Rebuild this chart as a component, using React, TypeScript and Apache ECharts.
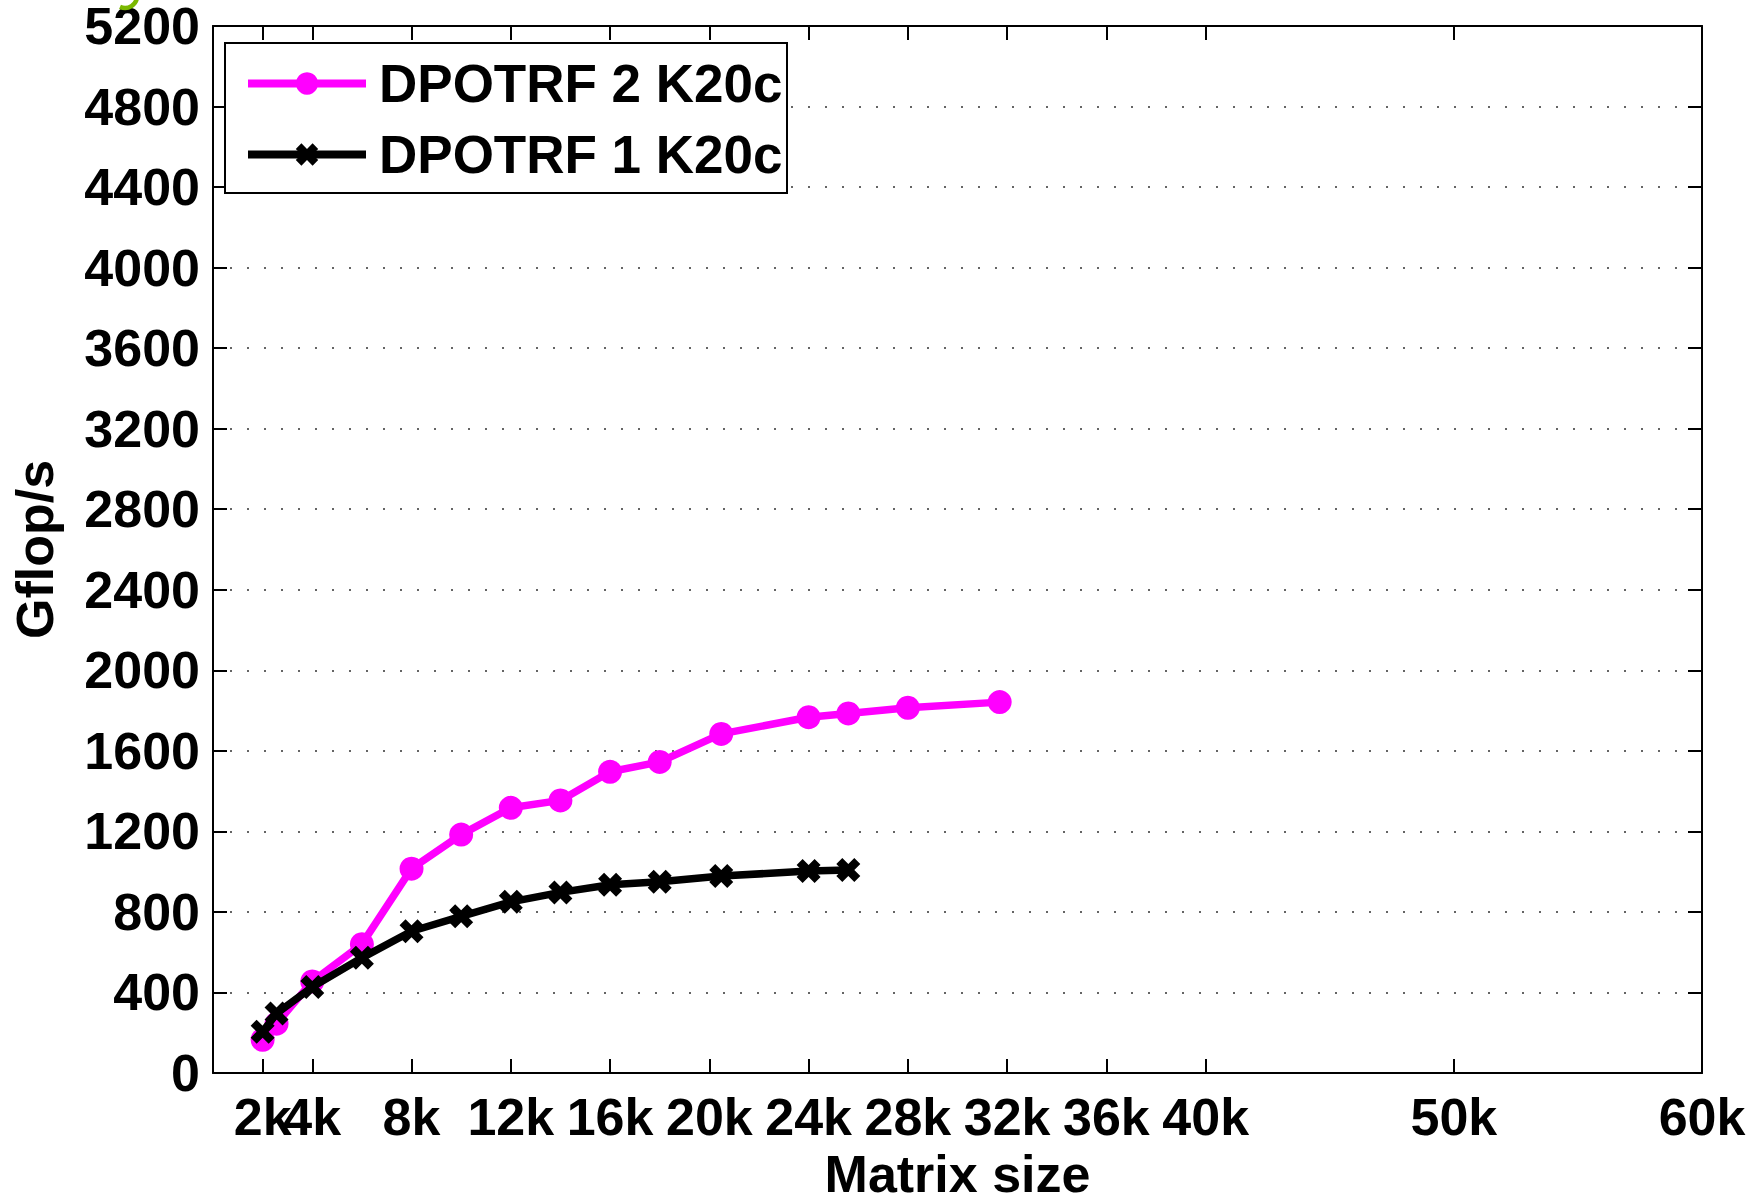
import React, { useEffect, useRef } from "react";
import * as echarts from "echarts";

const seriesNames = ["DPOTRF 2 K20c", "DPOTRF 1 K20c"];
const twoGpuSizes = [2000, 2560, 4000, 6000, 8000, 10000, 12000, 14000, 16000, 18000, 20480, 24000, 25600, 28000, 31700];
const twoGpuGflops = [165, 245, 455, 640, 1015, 1184, 1317, 1354, 1496, 1545, 1684, 1767, 1786, 1814, 1842];
const oneGpuSizes = [2000, 2560, 4000, 6000, 8000, 10000, 12000, 14000, 16000, 18000, 20480, 24000, 25600];
const oneGpuGflops = [205, 295, 427, 572, 704, 778, 850, 897, 935, 950, 978, 1003, 1008];
const xTickValues = [2000, 4000, 8000, 12000, 16000, 20000, 24000, 28000, 32000, 36000, 40000, 50000, 60000];
const xLabelValues = [4000, 8000, 12000, 16000, 20000, 24000, 28000, 32000, 36000, 40000, 50000, 60000];
const xLabelValuesOverlapping = [2000];
const xMin = 0;
const xMax = 60000;
const yMin = 0;
const yMax = 5200;
const yInterval = 400;

const FONT = "'Liberation Sans', Arial, Helvetica, sans-serif";
const X_SYMBOL = "path://M0,2.5L2.5,0L5,2.5L7.5,0L10,2.5L7.5,5L10,7.5L7.5,10L5,7.5L2.5,10L0,7.5L2.5,5Z";

export default function App() {
  const ref = useRef<HTMLDivElement>(null);
  useEffect(() => {
    document.body.style.margin = "0";
    if (!ref.current) return;
    const chart = echarts.init(ref.current, undefined, { renderer: "svg" });
    const axisLine = { show: true, onZero: false, lineStyle: { color: "#000", width: 2 } };
    const tick = { show: true, inside: true, length: 14, lineStyle: { color: "#000", width: 2 } };
    const labelStyle = { color: "#000", fontFamily: FONT, fontWeight: "bold" as const, fontSize: 52 };
    const fmtK = (v: number) => `${v / 1000}k`;
    chart.setOption({
      animation: false,
      backgroundColor: "#fff",
      grid: { left: 213, top: 26, width: 1489, height: 1047, containLabel: false, outerBoundsMode: "none" },
      legend: {
        orient: "vertical",
        left: 239,
        top: 52,
        z: 10,
        itemWidth: 118,
        itemHeight: 28,
        itemGap: 18,
        data: seriesNames,
        lineStyle: { width: 8 },
        textStyle: { ...labelStyle, fontSize: 53, lineHeight: 53, padding: [0, 0, 0, 8] },
      },
      graphic: [
        {
          type: "rect",
          z: 5,
          shape: { x: 225, y: 43, width: 562, height: 150 },
          style: { fill: "#fff", stroke: "#000", lineWidth: 2 },
        },
        {
          type: "arc",
          z: 5,
          shape: { cx: 125, cy: -4, r: 12, startAngle: 0, endAngle: 2.0, clockwise: true },
          style: { stroke: "#7ab800", lineWidth: 4.5, fill: "none" },
        },
      ],
      xAxis: [
        {
          type: "value",
          position: "bottom",
          min: xMin,
          max: xMax,
          name: "Matrix size",
          nameLocation: "middle",
          nameGap: 67,
          nameTextStyle: { ...labelStyle },
          axisLine,
          axisTick: { ...tick, customValues: xTickValues },
          axisLabel: { ...labelStyle, margin: 18, customValues: xLabelValues, formatter: fmtK },
          splitLine: { show: false },
        },
        {
          type: "value",
          position: "top",
          min: xMin,
          max: xMax,
          axisLine,
          axisTick: { ...tick, customValues: xTickValues },
          axisLabel: { show: false, customValues: xTickValues },
          splitLine: { show: false },
        },
        {
          type: "value",
          position: "bottom",
          min: xMin,
          max: xMax,
          axisLine: { show: false },
          axisTick: { show: false },
          axisLabel: { ...labelStyle, margin: 18, customValues: xLabelValuesOverlapping, formatter: fmtK },
          splitLine: { show: false },
        },
      ],
      yAxis: [
        {
          type: "value",
          position: "left",
          min: yMin,
          max: yMax,
          interval: yInterval,
          name: "Gflop/s",
          nameLocation: "middle",
          nameGap: 152,
          nameTextStyle: { ...labelStyle },
          axisLine,
          axisTick: tick,
          axisLabel: { ...labelStyle, margin: 13, formatter: (v: number) => String(v) },
          splitLine: { show: true, lineStyle: { color: "#333", width: 1.6, type: [2, 15] } },
        },
        {
          type: "value",
          position: "right",
          min: yMin,
          max: yMax,
          interval: yInterval,
          axisLine,
          axisTick: tick,
          axisLabel: { show: false },
          splitLine: { show: false },
        },
      ],
      series: [
        {
          name: seriesNames[0],
          type: "line",
          xAxisIndex: 0,
          yAxisIndex: 0,
          data: twoGpuSizes.map((x, i) => [x, twoGpuGflops[i]]),
          symbol: "circle",
          symbolSize: 24,
          itemStyle: { color: "#ff00ff" },
          lineStyle: { color: "#ff00ff", width: 7.5 },
          z: 3,
        },
        {
          name: seriesNames[1],
          type: "line",
          xAxisIndex: 0,
          yAxisIndex: 0,
          data: oneGpuSizes.map((x, i) => [x, oneGpuGflops[i]]),
          symbol: X_SYMBOL,
          symbolSize: 24,
          itemStyle: { color: "#000" },
          lineStyle: { color: "#000", width: 7.5 },
          z: 4,
        },
      ],
    });
    return () => chart.dispose();
  }, []);
  return <div ref={ref} style={{ width: 1754, height: 1198 }} />;
}
